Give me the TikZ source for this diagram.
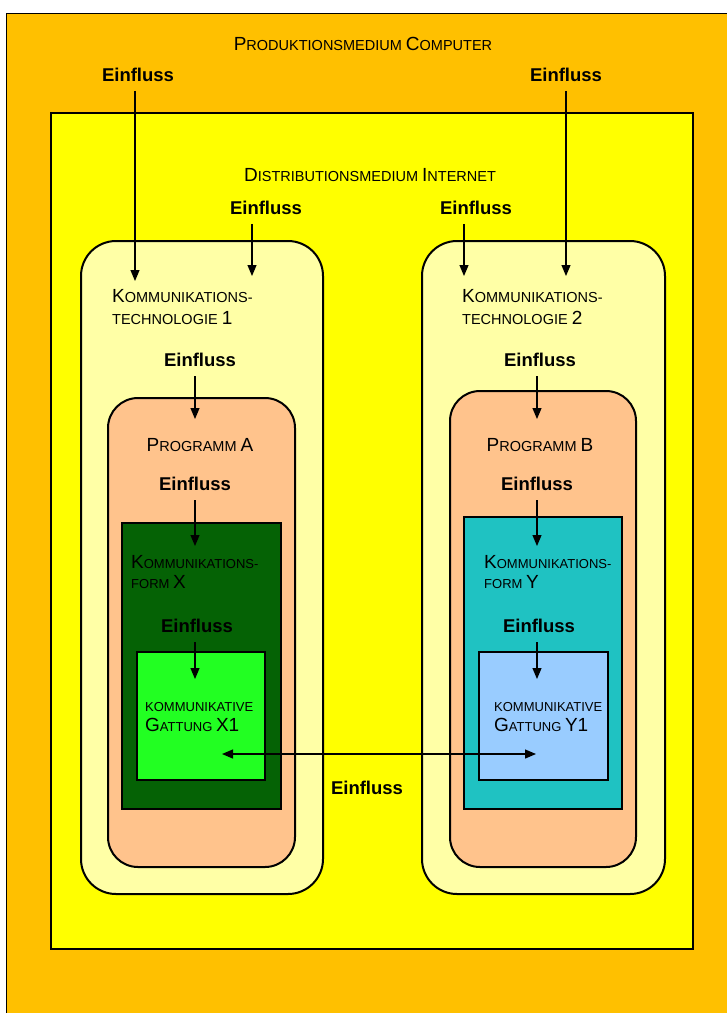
\documentclass[tikz,border=0pt]{standalone}
\usepackage{fontspec}
\setmainfont{Liberation Sans}
\usetikzlibrary{arrows.meta}

\definecolor{orangeaussen}{HTML}{FFC000}
\definecolor{gelb}{HTML}{FFFF00}
\definecolor{hellgelb}{HTML}{FFFFA6}
\definecolor{pfirsich}{HTML}{FFC38C}
\definecolor{dunkelgruen}{HTML}{056205}
\definecolor{hellgruen}{HTML}{22FF22}
\definecolor{tuerkis}{HTML}{1FC2C2}
\definecolor{hellblau}{HTML}{99CCFF}

\newcommand\gr[1]{{\fontsize{19}{22}\selectfont #1}}

\begin{document}
\begin{tikzpicture}[x=1pt,y=-1pt]

\tikzstyle{kasten}=[
  draw,
  line width=2pt,
  inner sep=0pt,
  anchor=north west]

\tikzstyle{einfluss}=[
  font=\fontsize{18.5}{20}\selectfont\bfseries,
  inner xsep=3pt, inner ysep=9pt]

\tikzstyle{titel}=[inner sep=0pt, align=left, font=\fontsize{14.5}{22}\selectfont]

\tikzstyle{klein}=[inner sep=0pt, align=left, font=\fontsize{13}{20}\selectfont]

\tikzstyle{pfeil}=[-{Triangle[length=11pt,width=9pt]}, line width=1.2pt]

\tikzstyle{doppelpfeil}=[{Triangle[length=11pt,width=9pt]}-{Triangle[length=11pt,width=9pt]}, line width=1.2pt]

\useasboundingbox (0,0) rectangle (727,1013);
\clip (0,0) rectangle (727,1013);

% boxes
\node[kasten, fill=orangeaussen, line width=1.2pt, minimum width=760pt, minimum height=1040pt] (pc) at (6,13) {};
\node[kasten, fill=gelb, minimum width=642pt, minimum height=836pt] (inet) at (50,112) {};

\node[kasten, fill=hellgelb, rounded corners=35pt, minimum width=242pt, minimum height=653pt] (kt1) at (80,240) {};
\node[kasten, fill=hellgelb, rounded corners=35pt, minimum width=243pt, minimum height=653pt] (kt2) at (421,240) {};

\node[kasten, fill=pfirsich, rounded corners=30pt, minimum width=187pt, minimum height=469pt] (pa) at (107,397) {};
\node[kasten, fill=pfirsich, rounded corners=30pt, minimum width=186pt, minimum height=476pt] (pb) at (449,390) {};

\node[kasten, fill=dunkelgruen, minimum width=159pt, minimum height=286pt] (fx) at (121,522) {};
\node[kasten, fill=tuerkis, minimum width=158pt, minimum height=292pt] (fy) at (463,516) {};

\node[kasten, fill=hellgruen, minimum width=128pt, minimum height=128pt] (gx) at (136,651) {};
\node[kasten, fill=hellblau, minimum width=129pt, minimum height=128pt] (gy) at (478,651) {};

% titles
\node[titel] (tpc) at (363,44) {\gr{P}RODUKTIONSMEDIUM \gr{C}OMPUTER};
\node[titel] (tinet) at (370,175) {\gr{D}ISTRIBUTIONSMEDIUM \gr{I}NTERNET};

\node[titel, anchor=north west] (tkt1) at (112,289) {\gr{K}OMMUNIKATIONS-\\TECHNOLOGIE \gr{1}};
\node[titel, anchor=north west] (tkt2) at (462,289) {\gr{K}OMMUNIKATIONS-\\TECHNOLOGIE \gr{2}};

\node[titel] (tpa) at (200,445) {\gr{P}ROGRAMM \gr{A}};
\node[titel] (tpb) at (540,445) {\gr{P}ROGRAMM \gr{B}};

\node[klein, anchor=north west] (tfx) at (131,555) {\gr{K}OMMUNIKATIONS-\\FORM \gr{X}};
\node[klein, anchor=north west] (tfy) at (484,555) {\gr{K}OMMUNIKATIONS-\\FORM \gr{Y}};

\node[klein, anchor=north west] (tgx) at (145,702) {KOMMUNIKATIVE\\\gr{G}ATTUNG \gr{X1}};
\node[klein, anchor=north west] (tgy) at (494,702) {KOMMUNIKATIVE\\\gr{G}ATTUNG \gr{Y1}};

% define points
\path
  (135,281) coordinate (s1)
  (566,276) coordinate (s2)
  (252,276) coordinate (s3)
  (464,276) coordinate (s4)
  (195,419) coordinate (s5)
  (537,419) coordinate (s6)
  (195,546) coordinate (s7)
  (537,546) coordinate (s8)
  (195,679) coordinate (s9)
  (537,679) coordinate (s10)
  (222,754) coordinate (gl)
  (536,754) coordinate (gr)
  ;

% einfluss
\node[einfluss] (e1) at (138,75) {Einfluss};
\node[einfluss] (e2) at (566,75) {Einfluss};
\node[einfluss] (e3) at (266,208) {Einfluss};
\node[einfluss] (e4) at (476,208) {Einfluss};
\node[einfluss] (e5) at (200,360) {Einfluss};
\node[einfluss] (e6) at (540,360) {Einfluss};
\node[einfluss] (e7) at (195,484) {Einfluss};
\node[einfluss] (e8) at (537,484) {Einfluss};
\node[einfluss] (e9) at (197,626) {Einfluss};
\node[einfluss] (e10) at (539,626) {Einfluss};
\node[einfluss] (e11) at (367,788) {Einfluss};

% draw arrows
\draw[pfeil] (e1.south -| s1) -- (s1);
\draw[pfeil] (e2.south -| s2) -- (s2);
\draw[pfeil] (e3.south -| s3) -- (s3);
\draw[pfeil] (e4.south -| s4) -- (s4);
\draw[pfeil] (e5.south -| s5) -- (s5);
\draw[pfeil] (e6.south -| s6) -- (s6);
\draw[pfeil] (e7.south -| s7) -- (s7);
\draw[pfeil] (e8.south -| s8) -- (s8);
\draw[pfeil] (e9.south -| s9) -- (s9);
\draw[pfeil] (e10.south -| s10) -- (s10);
\draw[doppelpfeil] (gl) -- (gr);

\end{tikzpicture}
\end{document}
